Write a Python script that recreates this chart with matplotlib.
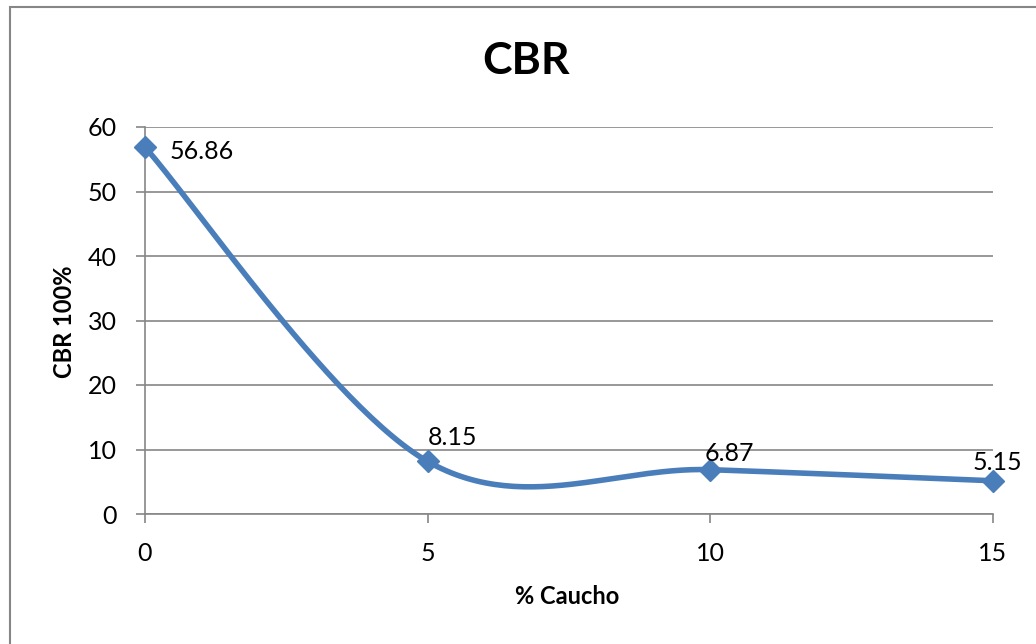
import numpy as np
import matplotlib
matplotlib.use("Agg")
import matplotlib.pyplot as plt
from matplotlib.patches import Rectangle

caucho = [0, 5, 10, 15]
cbr = [56.86, 8.15, 6.87, 5.15]
labels = ["56.86", "8.15", "6.87", "5.15"]
xticks = [0, 5, 10, 15]
yticks = [0, 10, 20, 30, 40, 50, 60]

plt.rcParams['font.family'] = ['Lato', 'DejaVu Sans']

def excel_smooth(xs, ys, n=60):
    xs = np.asarray(xs, float); ys = np.asarray(ys, float)
    P = np.column_stack([xs, ys])
    out = []
    for i in range(len(P) - 1):
        p0 = P[i - 1] if i > 0 else P[i]
        p1 = P[i]
        p2 = P[i + 1]
        p3 = P[i + 2] if i + 2 < len(P) else P[i + 1]
        c1 = p1 + (p2 - p0) / 6.0
        c2 = p2 - (p3 - p1) / 6.0
        t = np.linspace(0, 1, n)[:, None]
        seg = ((1 - t) ** 3) * p1 + 3 * ((1 - t) ** 2) * t * c1 + 3 * (1 - t) * t ** 2 * c2 + t ** 3 * p2
        out.append(seg if i == 0 else seg[1:])
    s = np.vstack(out)
    return s[:, 0], s[:, 1]

W, H = 1036, 644
fig = plt.figure(figsize=(W / 100, H / 100), dpi=100)
ax = fig.add_axes([145 / W, 1 - 514 / H, (993 - 145) / W, (514 - 127) / H])

gray = '#868686'
sx, sy = excel_smooth(caucho, cbr)
ax.plot(sx, sy, color='#4A7EBB', lw=4, solid_capstyle='round', zorder=3, clip_on=False)
ax.plot(caucho, cbr, linestyle='none', marker='D', markersize=11, color='#4A7EBB', zorder=4, clip_on=False)

offsets = [(18, -3), (0, 17), (-4, 12), (-15, 13)]
for x, y, lab, off in zip(caucho, cbr, labels, offsets):
    ax.annotate(lab, (x, y), xytext=off, textcoords='offset points', fontsize=18,
                ha='left', va='center', color='black', zorder=5)

ax.set_xlim(0, 15)
ax.set_ylim(0, 60)
ax.set_xticks(xticks)
ax.set_yticks(yticks)
ax.tick_params(axis='both', length=6.5, width=1.2, color=gray, labelsize=18)
ax.tick_params(axis='x', pad=14)
ax.tick_params(axis='y', pad=14)
ax.grid(axis='y', color=gray, lw=1.2)
ax.set_axisbelow(True)
for s in ['top', 'right']:
    ax.spines[s].set_visible(False)
for s in ['left', 'bottom']:
    ax.spines[s].set_color(gray)
    ax.spines[s].set_linewidth(1.2)

fig.text(526 / W, 1 - 61 / H, 'CBR', fontsize=32, fontweight='bold', ha='center', va='center')
fig.text(567 / W, 1 - 597 / H, '% Caucho', fontsize=17, fontweight='bold', ha='center', va='center')
fig.text(64 / W, 1 - 322 / H, 'CBR 100%', fontsize=17, fontweight='bold', ha='center', va='center', rotation=90)

fig.patches.append(Rectangle((10 / W, -0.05), 1.1, 1 - 7 / H + 0.05, transform=fig.transFigure,
                             fill=False, edgecolor=gray, lw=1.5))

fig.savefig('out.png', dpi=100)
